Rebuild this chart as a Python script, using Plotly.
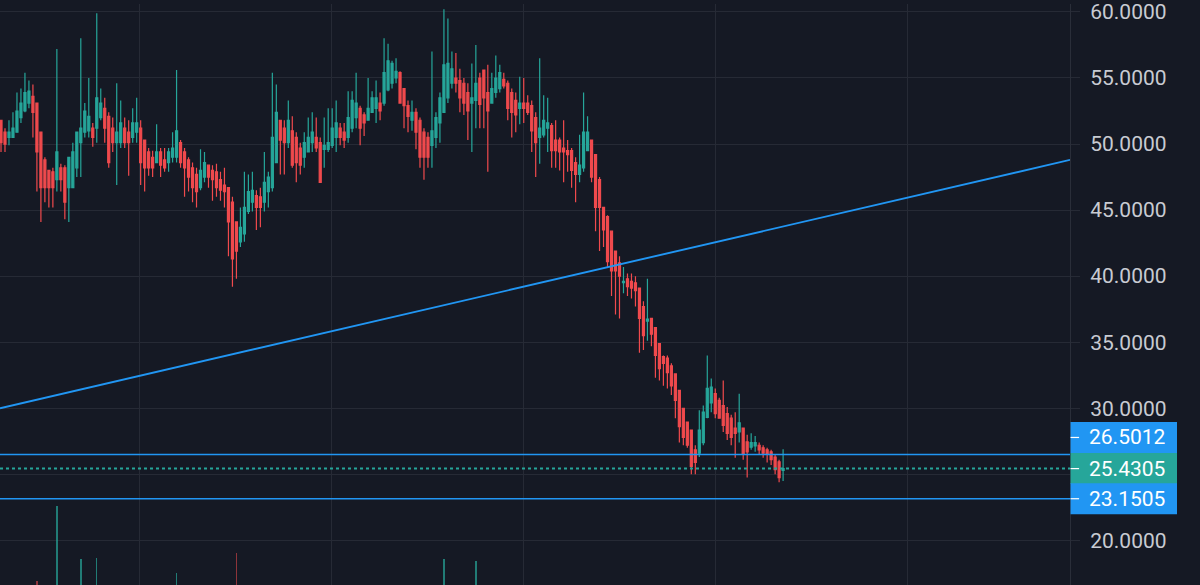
import plotly.graph_objects as go

# ---------------- data ----------------
open_ = [51.8, 50.9, 50.5, 50.5, 50.9, 52.0, 52.5, 53.1, 53.6, 53.1,
         50.9, 48.8, 48.0, 47.9, 47.3, 48.2, 48.2, 46.7, 46.7, 48.2,
         50.1, 50.9, 51.0, 51.2, 51.2, 52.0, 52.7, 52.1, 51.2, 50.1,
         50.1, 51.2, 50.9, 50.5, 50.9, 51.2, 50.3, 49.4, 49.0, 48.6,
         49.4, 48.8, 48.6, 49.0, 49.0, 50.1, 49.4, 48.8, 48.2, 47.7,
         46.7, 47.5, 48.4, 48.0, 47.9, 47.3, 46.9, 46.7, 45.6, 44.1,
         42.6, 43.2, 44.9, 45.6, 46.1, 46.0, 45.6, 46.4, 46.7, 48.6,
         51.8, 51.2, 50.1, 51.0, 50.5, 49.7, 49.0, 49.4, 50.1, 50.5,
         50.1, 49.6, 49.6, 49.9, 50.5, 51.2, 50.9, 50.5, 51.2, 52.0,
         52.7, 52.2, 51.8, 52.4, 52.7, 53.1, 53.1, 54.1, 54.6, 55.0,
         55.4, 54.2, 52.9, 51.8, 52.4, 51.8, 50.9, 50.5, 49.9, 50.5,
         51.6, 52.4, 53.5, 54.6, 55.0, 54.8, 54.6, 53.9, 53.1, 53.3,
         55.0, 55.6, 53.9, 53.1, 53.9, 54.2, 54.9, 54.6, 53.9, 53.3,
         52.7, 53.1, 53.1, 52.9, 52.0, 50.5, 50.7, 51.2, 51.4, 50.3,
         50.3, 49.7, 49.5, 49.5, 48.6, 47.7, 48.2, 49.5, 50.3, 49.2,
         47.3, 45.2, 44.5, 43.4, 41.9, 41.0, 39.5, 39.8, 39.6, 39.5,
         39.1, 37.7, 36.6, 36.8, 36.1, 34.9, 33.9, 33.8, 33.2, 32.6,
         31.35, 30.0, 28.95, 28.35, 26.85, 26.6, 27.4, 29.3, 30.4, 31.1,
         30.6, 30.2, 29.6, 29.25, 28.5, 28.2, 28.5, 27.45, 27.05, 27.15,
         27.2, 27.0, 26.85, 26.7, 26.3, 25.95, 25.3]
high = [51.8, 51.2, 51.8, 52.4, 53.9, 54.2, 55.4, 54.8, 54.5, 53.1,
        50.9, 49.0, 48.0, 48.2, 57.2, 48.5, 48.4, 49.0, 50.1, 50.9,
        58.0, 53.1, 55.0, 51.6, 59.9, 54.2, 53.5, 52.4, 52.0, 54.6,
        53.3, 52.0, 51.8, 52.7, 53.5, 51.8, 50.3, 49.7, 49.5, 51.5,
        49.7, 49.7, 49.7, 50.9, 55.6, 50.3, 49.7, 49.0, 48.6, 48.2,
        49.6, 49.4, 48.4, 48.4, 48.5, 47.9, 48.2, 46.7, 46.0, 44.1,
        45.2, 47.9, 47.7, 47.9, 46.5, 46.7, 49.4, 47.9, 55.4, 54.5,
        51.8, 51.8, 53.3, 52.1, 50.9, 50.1, 50.9, 52.0, 52.4, 52.0,
        50.5, 52.0, 52.7, 52.7, 53.3, 51.6, 51.6, 54.0, 54.0, 55.4,
        52.9, 52.4, 55.0, 54.0, 54.8, 53.9, 58.0, 57.6, 56.3, 56.5,
        55.5, 54.2, 53.3, 53.3, 52.7, 52.0, 51.2, 50.9, 57.0, 52.4,
        53.9, 60.2, 59.5, 57.0, 56.9, 55.7, 55.0, 54.6, 56.1, 57.5,
        55.4, 55.6, 56.0, 55.4, 56.7, 56.0, 55.4, 54.8, 54.2, 53.9,
        55.1, 55.0, 53.7, 53.3, 52.4, 56.5, 53.7, 53.5, 51.6, 51.8,
        50.5, 51.8, 50.3, 49.7, 49.0, 50.7, 53.9, 52.1, 50.3, 49.2,
        47.5, 45.2, 44.6, 43.4, 41.9, 41.5, 40.7, 40.2, 40.2, 40.0,
        39.1, 38.1, 39.8, 36.8, 36.1, 34.9, 34.0, 34.0, 33.4, 32.6,
        31.35, 30.0, 28.95, 28.35, 27.2, 29.85, 30.2, 34.0, 32.25, 31.5,
        30.8, 32.1, 30.1, 29.5, 29.7, 31.1, 28.5, 28.0, 28.1, 27.9,
        27.4, 27.2, 27.0, 26.85, 26.5, 26.1, 26.9]
low = [49.4, 49.4, 49.9, 50.5, 50.9, 51.6, 52.4, 52.7, 50.5, 46.4,
       44.1, 45.6, 45.2, 45.2, 46.4, 46.4, 44.3, 44.1, 46.7, 47.5,
       47.5, 50.5, 50.5, 49.8, 50.1, 51.8, 50.1, 48.2, 49.4, 46.9,
       49.7, 49.7, 47.6, 50.1, 50.1, 46.9, 46.4, 47.6, 47.5, 48.6,
       47.5, 47.9, 47.9, 48.6, 48.6, 48.2, 46.0, 46.4, 45.6, 45.2,
       46.5, 47.1, 46.7, 45.7, 46.0, 45.7, 45.2, 41.5, 39.2, 39.8,
       42.2, 42.6, 44.7, 44.9, 43.5, 43.7, 44.9, 45.2, 46.4, 48.6,
       47.7, 47.7, 49.7, 48.2, 47.1, 47.7, 48.2, 49.4, 49.4, 49.4,
       47.1, 48.2, 49.4, 49.7, 49.4, 49.9, 49.7, 50.1, 50.9, 51.2,
       49.9, 50.6, 51.8, 52.4, 51.6, 51.8, 52.9, 54.0, 54.2, 54.6,
       53.1, 51.2, 50.9, 51.0, 49.6, 48.2, 47.3, 48.2, 48.2, 49.7,
       50.1, 52.4, 53.1, 54.2, 53.9, 52.4, 52.2, 50.3, 49.4, 51.2,
       51.2, 51.2, 47.9, 53.1, 53.5, 53.9, 54.2, 51.8, 50.5, 50.9,
       51.5, 51.6, 52.2, 49.4, 47.5, 48.5, 50.5, 49.4, 48.2, 48.2,
       48.0, 47.1, 47.9, 46.7, 45.6, 47.1, 47.9, 49.5, 47.1, 43.4,
       41.9, 42.2, 40.7, 38.5, 37.1, 36.8, 38.7, 38.5, 38.3, 37.7,
       34.2, 34.4, 35.1, 34.7, 32.3, 32.1, 31.7, 31.5, 31.0, 29.25,
       27.4, 27.2, 27.0, 25.0, 25.0, 26.3, 27.2, 29.25, 29.7, 29.25,
       29.25, 28.2, 27.6, 27.2, 26.25, 27.4, 26.1, 24.75, 26.85, 26.7,
       26.5, 26.25, 25.9, 25.7, 25.0, 24.4, 24.5]
close = [50.1, 50.0, 50.9, 51.2, 52.5, 53.1, 53.9, 54.0, 52.4, 49.4,
         46.7, 46.7, 46.7, 46.7, 49.4, 47.3, 45.6, 49.0, 49.4, 50.9,
         51.2, 52.5, 52.1, 50.5, 53.5, 53.1, 51.2, 48.6, 50.1, 50.9,
         51.6, 50.1, 50.1, 51.6, 51.6, 48.6, 48.2, 48.2, 48.2, 49.4,
         48.4, 48.2, 49.4, 49.7, 51.0, 48.6, 48.2, 47.5, 46.7, 46.4,
         48.0, 48.6, 47.5, 47.3, 46.7, 46.5, 46.4, 44.1, 41.3, 41.9,
         43.7, 45.2, 46.4, 46.5, 45.2, 45.2, 47.1, 47.5, 50.5, 52.4,
         50.3, 50.1, 51.8, 48.4, 48.6, 48.4, 50.1, 50.5, 50.9, 49.7,
         47.1, 49.9, 50.1, 51.2, 51.6, 50.5, 50.3, 52.0, 53.3, 53.1,
         51.2, 51.6, 52.7, 53.5, 53.5, 52.5, 55.4, 56.3, 56.1, 55.5,
         53.1, 52.9, 52.1, 52.4, 50.9, 49.0, 49.0, 49.0, 51.0, 52.0,
         53.5, 56.0, 56.1, 55.7, 54.6, 53.5, 53.1, 52.5, 53.5, 54.6,
         53.0, 53.5, 52.5, 54.2, 55.0, 55.4, 54.4, 52.7, 52.4, 52.2,
         53.1, 52.7, 52.4, 51.0, 50.1, 51.2, 51.8, 51.6, 49.5, 49.5,
         49.4, 49.4, 49.2, 48.0, 47.7, 48.4, 50.9, 50.9, 47.5, 45.2,
         45.2, 43.5, 41.1, 40.4, 40.4, 40.0, 39.6, 39.2, 39.1, 38.9,
         36.8, 35.5, 36.75, 35.6, 34.0, 33.0, 33.4, 32.7, 31.7, 30.6,
         28.6, 27.8, 27.2, 25.6, 25.9, 28.35, 29.7, 31.5, 31.6, 29.6,
         29.25, 28.7, 28.1, 27.8, 28.1, 28.9, 26.5, 26.7, 27.4, 27.4,
         26.85, 26.6, 26.5, 26.1, 25.35, 24.75, 25.4305]
bar_index = list(range(len(close)))

# volume bars that are visible at the bottom edge (index, relative volume)
vol_index = [9, 14, 20, 24, 44, 59, 111, 119]
vol_values = [8, 164, 53, 55, 25, 66, 53, 50]
vol_up = [False, True, True, True, True, False, True, True]

# drawn levels
level_top = 26.5012
level_last = 25.4305
level_bottom = 23.1505
trend_x = [-0.25, 267.9]
trend_y = [30.0, 48.8]
y_ticks = [20, 25, 30, 35, 40, 45, 50, 55, 60]
# the 25.0000 label sits under the price badges, so it is not shown
y_ticktext = ["" if v == 25 else f"{v:.4f}" for v in y_ticks]

# ---------------- styles ----------------
BG = "#151924"
GRID = "#262a35"
UP = "#26a69a"
DOWN = "#f04a4d"
BLUE = "#2196f3"
TXT = "#c8cbd2"
FONT = "Roboto"

fig = go.Figure()

fig.add_trace(go.Bar(
    x=vol_index, y=vol_values, yaxis="y2", width=0.35,
    marker=dict(color=["rgba(38,166,154,0.7)" if u else "rgba(240,74,77,0.55)" for u in vol_up],
                line=dict(width=0)),
    hoverinfo="skip", showlegend=False,
))

fig.add_trace(go.Candlestick(
    x=bar_index, open=open_, high=high, low=low, close=close,
    increasing=dict(line=dict(color=UP, width=1.2), fillcolor=UP),
    decreasing=dict(line=dict(color=DOWN, width=1.2), fillcolor=DOWN),
    whiskerwidth=0, showlegend=False,
))

fig.add_trace(go.Scatter(
    x=trend_x, y=trend_y, mode="lines",
    line=dict(color=BLUE, width=1.9), hoverinfo="skip", showlegend=False,
))

shapes = []
for lv in (level_top, level_bottom):
    shapes.append(dict(type="line", xref="paper", x0=0, x1=1, yref="y", y0=lv, y1=lv,
                       line=dict(color=BLUE, width=1.6), layer="above"))
shapes.append(dict(type="line", xref="paper", x0=0, x1=1, yref="y", y0=level_last, y1=level_last,
                   line=dict(color=UP, width=2, dash="dot"), layer="above"))

annotations = []
badges = [(level_top, BLUE, 17), (level_last, UP, 0), (level_bottom, BLUE, 0)]
for val, col, shift in badges:
    shapes.append(dict(type="rect", xref="paper", x0=1.0005, x1=1.1, yref="y",
                       ysizemode="pixel", yanchor=val, y0=-15.5 + shift, y1=15.5 + shift,
                       fillcolor=col, line=dict(width=0), layer="above"))
    shapes.append(dict(type="line", xref="paper", x0=1.0005, x1=1.0085, yref="y",
                       ysizemode="pixel", yanchor=val, y0=shift, y1=shift,
                       line=dict(color="#ffffff", width=1.2), layer="above"))
    annotations.append(dict(xref="paper", x=1.0535, xanchor="center", yref="y", y=val,
                            yshift=shift, yanchor="middle", text=f"{val:.4f}",
                            showarrow=False, font=dict(family=FONT, size=21, color="#ffffff")))

fig.update_layout(
    width=1200, height=585,
    margin=dict(l=0, r=130, t=0, b=0),
    paper_bgcolor=BG, plot_bgcolor=BG,
    bargap=0, boxgap=0.27,
    shapes=shapes, annotations=annotations,
    showlegend=False,
    xaxis=dict(range=[-0.25, 267.9], showticklabels=False, ticks="",
               showgrid=True, gridcolor=GRID, gridwidth=1,
               tick0=34.8, dtick=48.1, zeroline=False, showline=False,
               rangeslider=dict(visible=False), fixedrange=True),
    yaxis=dict(range=[16.62, 60.60], side="right", tickvals=y_ticks, ticktext=y_ticktext,
               showgrid=True, gridcolor=GRID, gridwidth=1, zeroline=False,
               showline=True, linecolor="#2a2e39", linewidth=1,
               ticks="outside", ticklen=9, tickcolor=GRID, ticklabelstandoff=6,
               ticklabeloverflow="allow",
               tickfont=dict(family=FONT, size=21, color=TXT)),
    yaxis2=dict(range=[0, 1200], overlaying="y", visible=False, fixedrange=True),
)

fig.write_html("out.html")
